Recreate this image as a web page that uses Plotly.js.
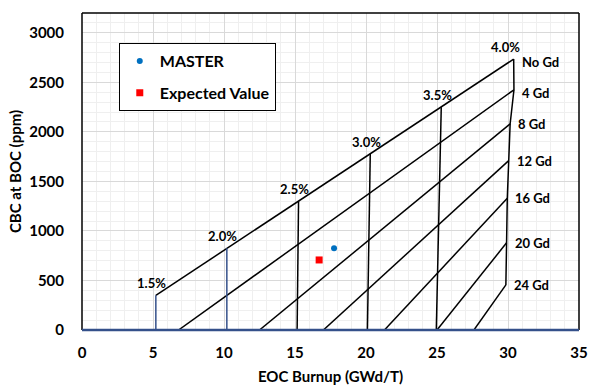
<!DOCTYPE html>
<html>
<head>
<meta charset="utf-8">
<script src="https://cdn.plot.ly/plotly-3.0.1.min.js"></script>
<style>html,body{margin:0;padding:0;background:#fff;}#chart{width:591px;height:387px;}</style>
</head>
<body>
<div id="chart"></div>
<script>
// Enrichment (top, No Gd) points
const enrichLabels = ['1.5%', '2.0%', '2.5%', '3.0%', '3.5%', '4.0%'];
const noGdX = [5.2, 10.2, 15.25, 20.3, 25.3, 30.4];
const noGdY = [350, 825, 1300, 1780, 2250, 2735];
// Lower ends of the enrichment lines
const enrichBottomX = [5.2, 10.2, 15.15, 20.1, 24.95, 29.85];
const enrichBottomY = [0, 0, 0, 0, 0, 455];

// Gd loading lines
const gdLabels = ['No Gd', '4 Gd', '8 Gd', '12 Gd', '16 Gd', '20 Gd', '24 Gd'];
const gdStartX = [5.2, 6.8, 12.5, 17.0, 21.3, 25.0, 27.6];
const gdStartY = [350, 0, 0, 0, 0, 0, 0];
const gdEndX = [30.4, 30.42, 30.15, 30.05, 29.95, 29.9, 29.85];
const gdEndY = [2735, 2425, 2080, 1710, 1330, 880, 455];

// Measured points
const masterX = [17.75];
const masterY = [825];
const expectedX = [16.7];
const expectedY = [707];

const FONT = 'Lato, "Open Sans", sans-serif';
const NAVY = '#34508a';

const traces = [];
// Gd lines (No Gd through 24 Gd)
for (let i = 0; i < gdLabels.length; i++) {
  traces.push({x: [gdStartX[i], gdEndX[i]], y: [gdStartY[i], gdEndY[i]], mode: 'lines',
    line: {color: '#000', width: 1.5}, showlegend: false, hoverinfo: 'skip'});
}
// Enrichment vertical lines (1.5% .. 3.5%)
for (let i = 0; i < enrichLabels.length - 1; i++) {
  traces.push({x: [noGdX[i], enrichBottomX[i]], y: [noGdY[i], enrichBottomY[i]], mode: 'lines',
    line: {color: i < 2 ? NAVY : '#000', width: 1.5}, showlegend: false, hoverinfo: 'skip'});
}
// 4.0% boundary passes through the right end of every Gd line
traces.push({x: gdEndX, y: gdEndY, mode: 'lines', line: {color: '#000', width: 1.5},
  showlegend: false, hoverinfo: 'skip'});

traces.push({x: masterX, y: masterY, mode: 'markers', name: 'MASTER', legendgroup: 'a',
  marker: {color: '#0070c0', size: 6, symbol: 'circle'}});
traces.push({x: expectedX, y: expectedY, mode: 'markers', name: 'Expected Value', legendgroup: 'b',
  marker: {color: '#ff0000', size: 7, symbol: 'square'}});

const annotations = [];
for (let i = 0; i < enrichLabels.length; i++) {
  annotations.push({x: noGdX[i], y: noGdY[i], text: enrichLabels[i], showarrow: false,
    xanchor: 'center', yanchor: 'bottom', xshift: i === 5 ? -8 : -4, yshift: 2,
    font: {family: FONT, size: 13, color: '#000', weight: 'bold'}});
}
for (let i = 0; i < gdLabels.length; i++) {
  annotations.push({x: gdEndX[i], y: gdEndY[i], text: gdLabels[i], showarrow: false,
    xanchor: 'left', yanchor: 'middle', xshift: 6, yshift: i < 2 ? -3 : 0,
    font: {family: FONT, size: 13, color: '#000', weight: 'bold'}});
}

const shapes = [
  {type: 'line', xref: 'paper', yref: 'paper', x0: 0, x1: 0, y0: 0, y1: 1, line: {color: '#000', width: 1.5}},
  {type: 'line', xref: 'paper', yref: 'paper', x0: 0, x1: 1, y0: 1, y1: 1, line: {color: '#000', width: 1.5}},
  {type: 'line', xref: 'paper', yref: 'paper', x0: 1, x1: 1, y0: 0, y1: 1, line: {color: '#000', width: 1.5}},
  {type: 'line', xref: 'paper', yref: 'paper', x0: 0, x1: 1, y0: 0, y1: 0, line: {color: NAVY, width: 2.5}}
];

const layout = {
  width: 591, height: 387,
  margin: {l: 82, r: 12, t: 13, b: 57},
  paper_bgcolor: '#fff', plot_bgcolor: '#fff',
  showlegend: true,
  legend: {x: 0.074, y: 0.905, xanchor: 'left', yanchor: 'top', bgcolor: '#fff',
    bordercolor: '#000', borderwidth: 1, tracegroupgap: 8,
    font: {family: FONT, size: 16, color: '#000', weight: 'bold'}},
  xaxis: {range: [0, 35], dtick: 5, tick0: 0, showline: false, zeroline: false, ticks: '',
    showgrid: true, gridcolor: '#d9d9d9', gridwidth: 1,
    minor: {dtick: 1, showgrid: true, gridcolor: '#efefef', gridwidth: 1},
    ticklabelstandoff: 12,
    tickfont: {family: FONT, size: 15, color: '#000', weight: 'bold'},
    title: {text: 'EOC Burnup (GWd/T)', standoff: 11, font: {family: FONT, size: 15, color: '#000', weight: 'bold'}}},
  yaxis: {range: [0, 3200], dtick: 500, tick0: 0, showline: false, zeroline: false, ticks: '',
    showgrid: true, gridcolor: '#d9d9d9', gridwidth: 1,
    minor: {dtick: 100, showgrid: true, gridcolor: '#efefef', gridwidth: 1},
    ticklabelstandoff: 17,
    tickfont: {family: FONT, size: 15, color: '#000', weight: 'bold'},
    title: {text: 'CBC at BOC (ppm)', standoff: 3, font: {family: FONT, size: 15, color: '#000', weight: 'bold'}}},
  annotations: annotations,
  shapes: shapes
};

Plotly.newPlot('chart', traces, layout, {displayModeBar: false, staticPlot: true});
</script>
</body>
</html>
